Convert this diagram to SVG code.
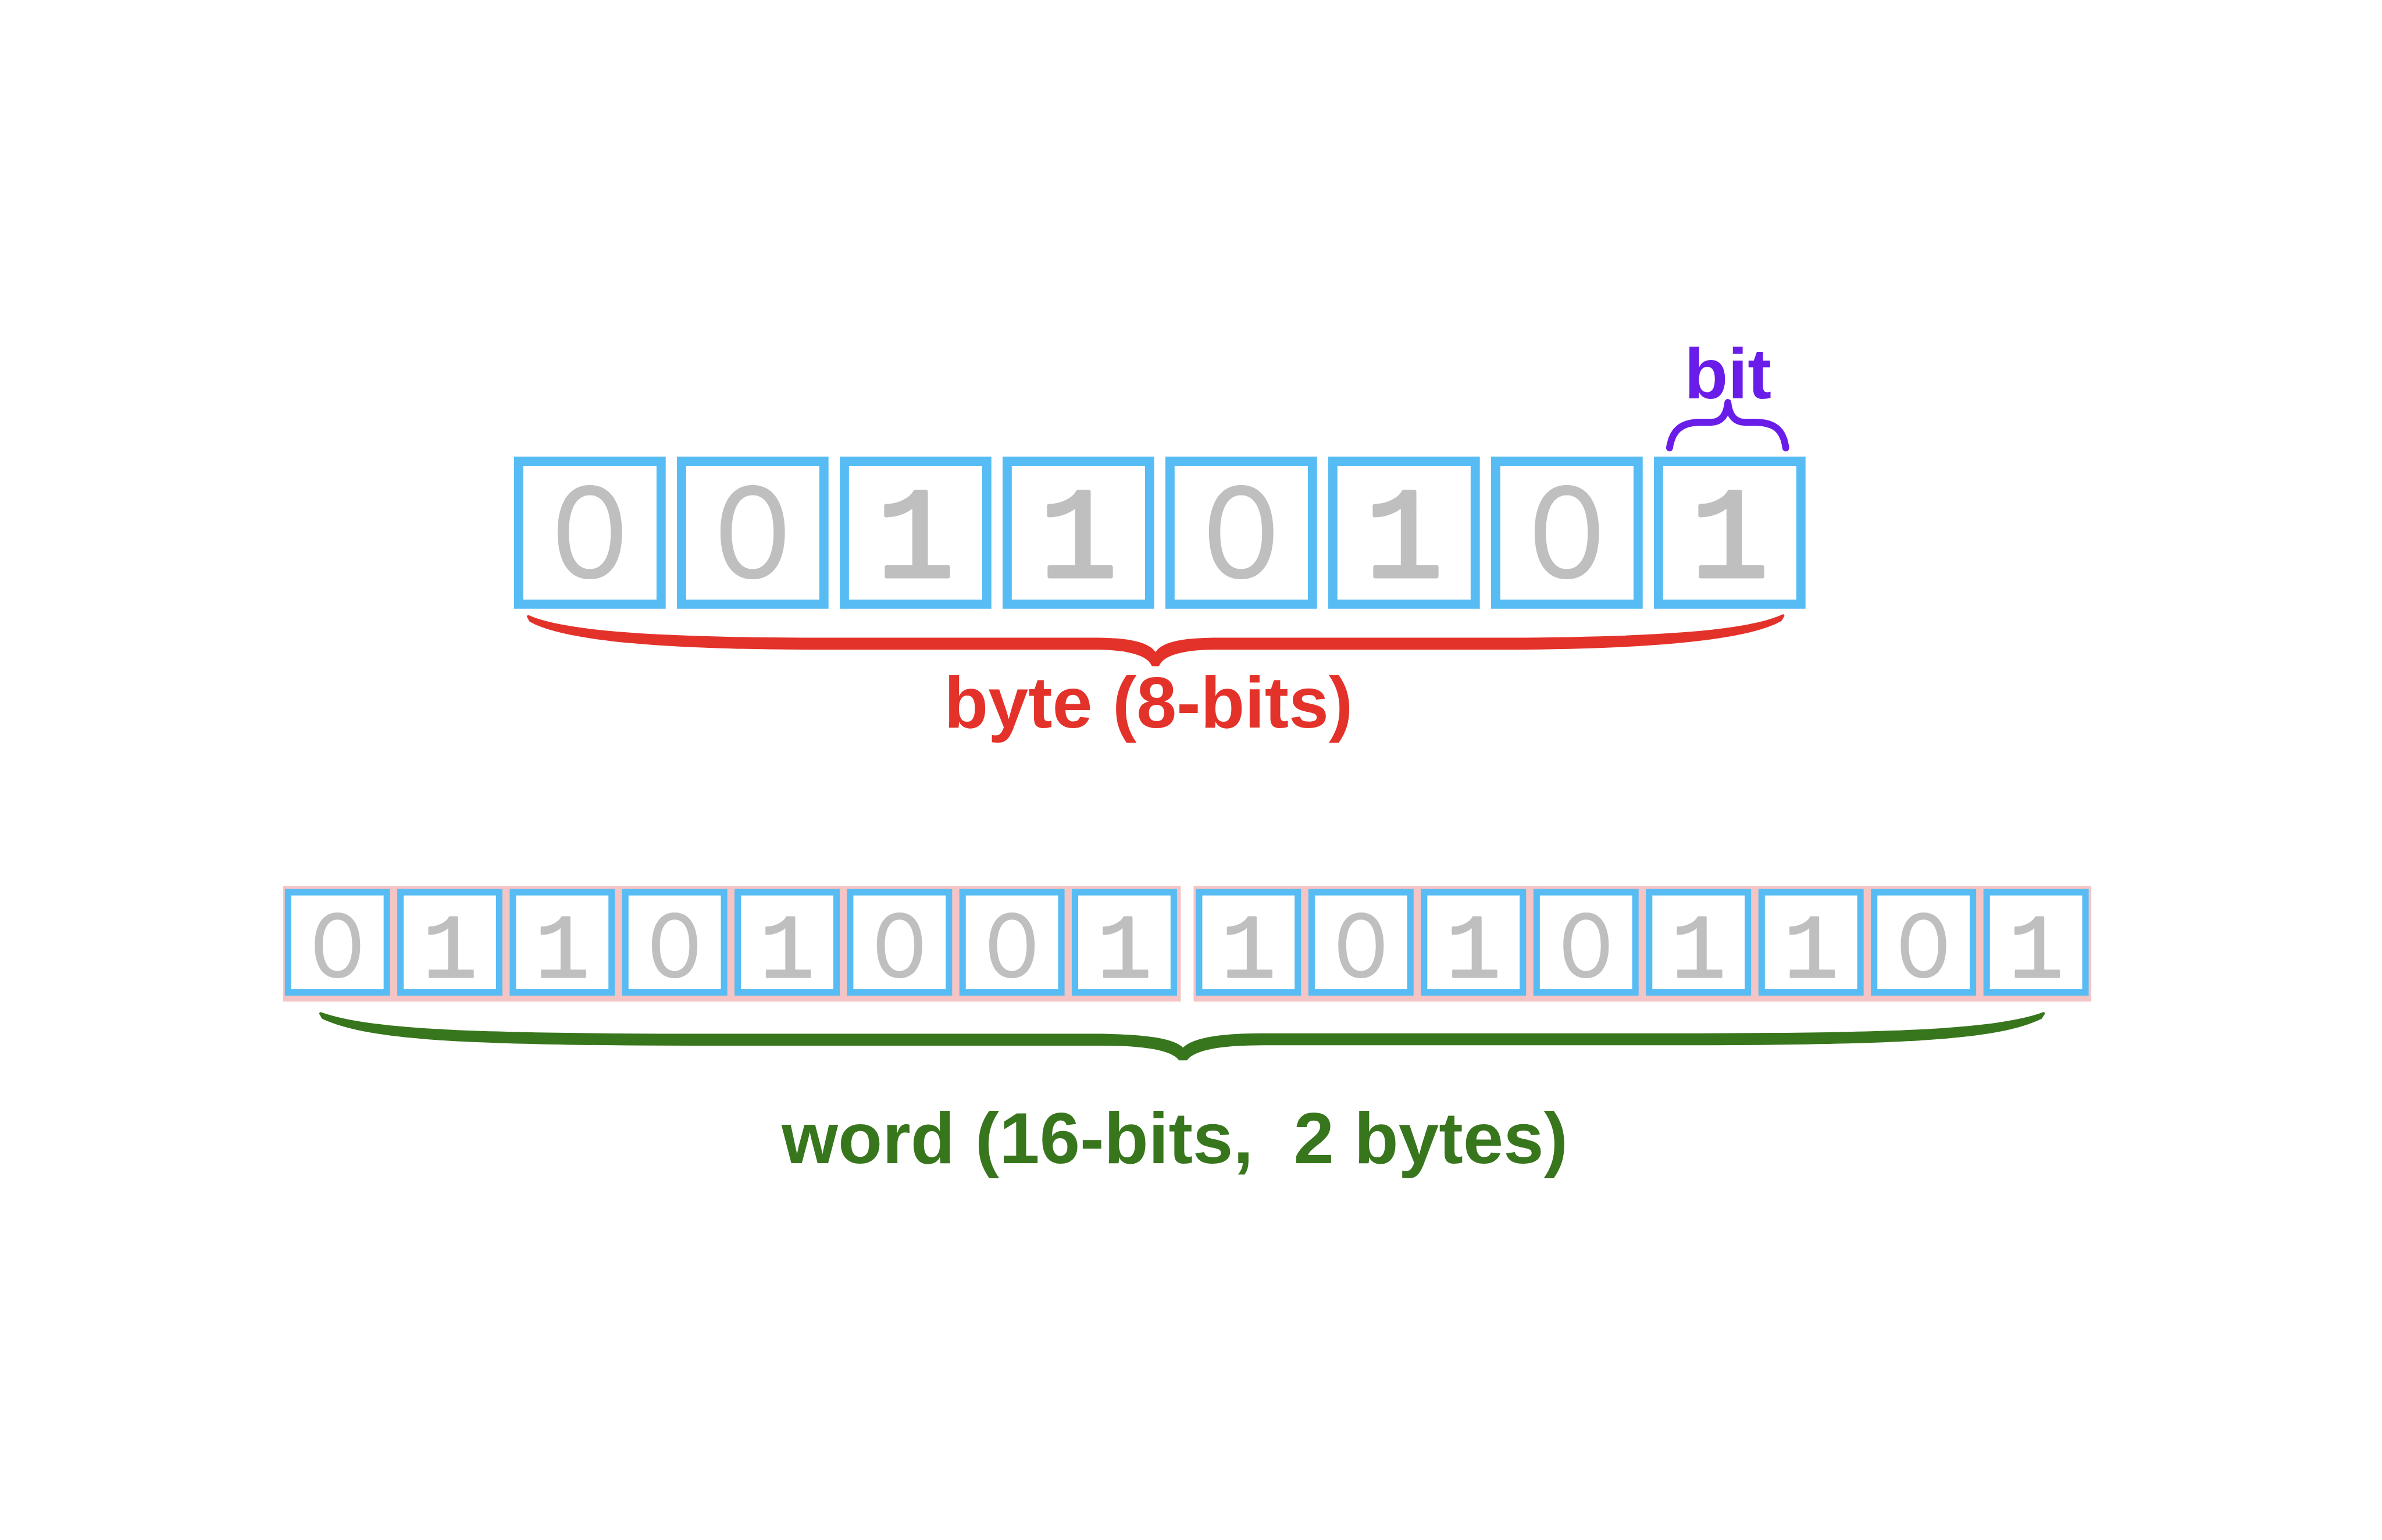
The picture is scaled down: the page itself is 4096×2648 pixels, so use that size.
<svg xmlns="http://www.w3.org/2000/svg" width="4096" height="2648" viewBox="0 0 4096 2648">
<style>
.cell{fill:#ffffff;stroke:#57bcf3;stroke-width:20}
.wcell{fill:#ffffff;stroke:#57bcf3;stroke-width:14}
.pink{fill:#f5c4c4}
.one{font-family:"Liberation Mono","Courier New",monospace;font-size:280px;fill:#bfbfbf;stroke:#bfbfbf;stroke-width:9;stroke-linejoin:round;text-anchor:middle}
.zero{font-family:Inter,"DejaVu Sans",sans-serif;font-weight:400;font-size:274px;fill:#bfbfbf;text-anchor:middle}
.wone{font-family:"Liberation Mono","Courier New",monospace;font-size:198px;fill:#bfbfbf;stroke:#bfbfbf;stroke-width:4;stroke-linejoin:round;text-anchor:middle}
.wzero{font-family:Inter,"DejaVu Sans",sans-serif;font-weight:400;font-size:193px;fill:#bfbfbf;text-anchor:middle}
.lbl{font-family:"Liberation Sans",Arial,sans-serif;font-weight:bold;text-anchor:middle;white-space:pre}
</style>
<rect width="4096" height="2648" fill="#ffffff"/>
<g transform="scale(0.79)">
<g id="byte">
<g id="b1"><rect class="cell" x="1129" y="1004" width="310" height="311"/><text class="zero" x="1284" y="1258">0</text></g>
<g id="b2"><rect class="cell" x="1483.4" y="1004" width="310" height="311"/><text class="zero" x="1638.4" y="1258">0</text></g>
<g id="b3"><rect class="cell" x="1837.9" y="1004" width="310" height="311"/><text class="one" x="1992.9" y="1254">1</text></g>
<g id="b4"><rect class="cell" x="2192.3" y="1004" width="310" height="311"/><text class="one" x="2347.3" y="1254">1</text></g>
<g id="b5"><rect class="cell" x="2546.7" y="1004" width="310" height="311"/><text class="zero" x="2701.7" y="1258">0</text></g>
<g id="b6"><rect class="cell" x="2901.1" y="1004" width="310" height="311"/><text class="one" x="3056.1" y="1254">1</text></g>
<g id="b7"><rect class="cell" x="3255.6" y="1004" width="310" height="311"/><text class="zero" x="3410.6" y="1258">0</text></g>
<g id="b8"><rect class="cell" x="3610" y="1004" width="310" height="311"/><text class="one" x="3765" y="1254">1</text></g>
</g>
<g id="word">
<rect class="pink" x="616" y="1928" width="1954" height="252"/>
<rect class="pink" x="2598" y="1928" width="1954" height="252"/>
<g id="w1"><rect class="wcell" x="627" y="1942" width="215" height="218"/><text class="wzero" x="734.5" y="2128">0</text></g>
<g id="w2"><rect class="wcell" x="871.7" y="1942" width="215" height="218"/><text class="wone" x="979.2" y="2126">1</text></g>
<g id="w3"><rect class="wcell" x="1116.4" y="1942" width="215" height="218"/><text class="wone" x="1223.9" y="2126">1</text></g>
<g id="w4"><rect class="wcell" x="1361.1" y="1942" width="215" height="218"/><text class="wzero" x="1468.6" y="2128">0</text></g>
<g id="w5"><rect class="wcell" x="1605.8" y="1942" width="215" height="218"/><text class="wone" x="1713.3" y="2126">1</text></g>
<g id="w6"><rect class="wcell" x="1850.5" y="1942" width="215" height="218"/><text class="wzero" x="1958" y="2128">0</text></g>
<g id="w7"><rect class="wcell" x="2095.2" y="1942" width="215" height="218"/><text class="wzero" x="2202.7" y="2128">0</text></g>
<g id="w8"><rect class="wcell" x="2339.9" y="1942" width="215" height="218"/><text class="wone" x="2447.4" y="2126">1</text></g>
<g id="w9"><rect class="wcell" x="2610" y="1942" width="215" height="218"/><text class="wone" x="2717.5" y="2126">1</text></g>
<g id="w10"><rect class="wcell" x="2854.9" y="1942" width="215" height="218"/><text class="wzero" x="2962.4" y="2128">0</text></g>
<g id="w11"><rect class="wcell" x="3099.8" y="1942" width="215" height="218"/><text class="wone" x="3207.3" y="2126">1</text></g>
<g id="w12"><rect class="wcell" x="3344.7" y="1942" width="215" height="218"/><text class="wzero" x="3452.2" y="2128">0</text></g>
<g id="w13"><rect class="wcell" x="3589.6" y="1942" width="215" height="218"/><text class="wone" x="3697.1" y="2126">1</text></g>
<g id="w14"><rect class="wcell" x="3834.5" y="1942" width="215" height="218"/><text class="wone" x="3942" y="2126">1</text></g>
<g id="w15"><rect class="wcell" x="4079.4" y="1942" width="215" height="218"/><text class="wzero" x="4186.9" y="2128">0</text></g>
<g id="w16"><rect class="wcell" x="4324.3" y="1942" width="215" height="218"/><text class="wone" x="4431.8" y="2126">1</text></g>
</g>
<g id="connectors">
<path id="brace-bit" fill="none" stroke="#6a1de8" stroke-width="15" stroke-linecap="round" stroke-linejoin="round" d="M3634,975 C3640,935 3660,920 3700,919 L3725,919 C3745,919 3758,905 3761,876 C3764,905 3777,919 3797,919 L3822,919 C3862,920 3882,935 3887,975"/>
<path id="brace-byte" fill="#e3322a" stroke="#e3322a" stroke-width="6" stroke-linejoin="round" d="M1150,1342 C1230,1378 1450,1390 1750,1391 L2390,1391 C2475,1392 2505,1405 2515,1425 C2525,1405 2555,1392 2640,1391 L3280,1391 C3580,1390 3800,1378 3881,1340 L3876,1349 C3800,1393 3580,1410 3280,1411 L2640,1411 C2570,1412 2530,1425 2521,1447 L2509,1447 C2500,1425 2460,1412 2390,1411 L1750,1411 C1450,1410 1230,1393 1155,1351 Z"/>
<path id="brace-word" fill="#38761d" stroke="#38761d" stroke-width="6" stroke-linejoin="round" d="M698,2206 C800,2242 1000,2252 1500,2253 L2400,2253 C2505,2255 2560,2265 2575,2285 C2590,2265 2645,2252 2750,2252 L3650,2252 C4150,2252 4350,2242 4448,2206 L4442,2215 C4350,2260 4150,2272 3650,2272 L2750,2272 C2660,2272 2600,2282 2582,2305 L2568,2305 C2550,2283 2490,2273 2400,2273 L1500,2273 C1000,2272 800,2260 703,2215 Z"/>
</g>
<g id="labels">
<text class="lbl" x="3761" y="867" font-size="155" fill="#6a1de8">bit</text>
<text class="lbl" x="2500" y="1583" font-size="157" fill="#e3322a">byte (8-bits)</text>
<text class="lbl" x="2557" y="2532" font-size="158" fill="#38761d">word (16-bits,  2 bytes)</text>
</g>
</g>
</svg>
